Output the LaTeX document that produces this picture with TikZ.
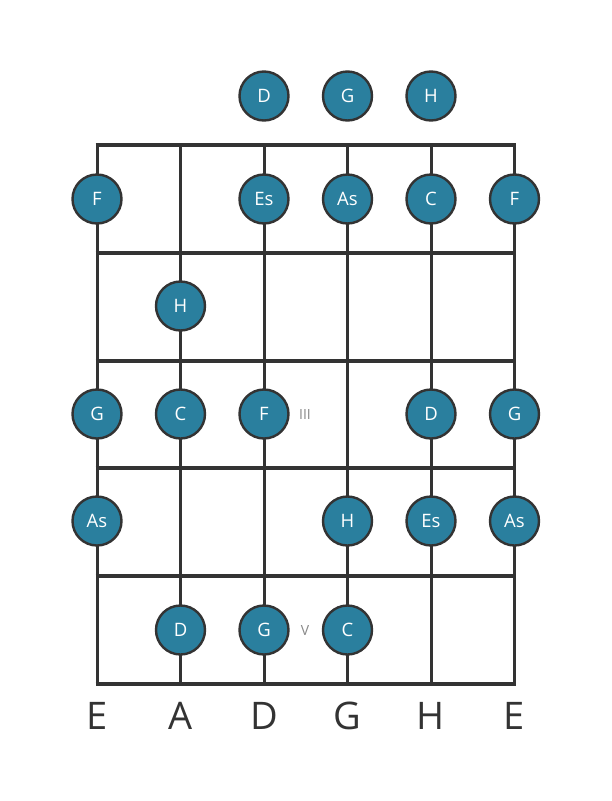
\documentclass[tikz,border=0pt]{standalone}
\usepackage{fontspec}
\setmainfont{Open Sans}
\definecolor{notefill}{HTML}{2A7F9E}
\definecolor{ink}{HTML}{333333}
\definecolor{marker}{HTML}{888888}
\begin{document}
\begin{tikzpicture}[x=1pt,y=-1pt,
  stringline/.style={draw=ink,line width=3pt},
  fretline/.style={draw=ink,line width=4.5pt},
  note/.style={circle,draw=ink,line width=2.4pt,fill=notefill,minimum size=49pt,inner sep=0pt,text=white,font=\fontsize{18.5}{20}\selectfont},
  strlabel/.style={text=ink,font=\fontsize{38}{42}\selectfont},
  fretnum/.style={text=marker,font=\fontsize{14}{16}\selectfont}]
\useasboundingbox (0,0) rectangle (611,801);
% strings
\foreach \x/\n in {97/s1,180.5/s2,264/s3,347.5/s4,431/s5,514.5/s6}{
  \coordinate (\n t) at (\x,145);
  \coordinate (\n b) at (\x,684);
  \draw[stringline] (\n t) -- (\n b);
}
% frets
\foreach \y/\n in {145/f0,253/f1,361/f2,468/f3,576/f4,684/f5}{
  \coordinate (\n l) at (95.5,\y);
  \coordinate (\n r) at (516,\y);
  \draw[fretline] (\n l) -- (\n r);
}
% open notes
\node[note] (o3) at (264,96) {D};
\node[note] (o4) at (347.5,96) {G};
\node[note] (o5) at (431,96) {H};
% fret 1
\node[note] (a1) at (97,199) {F};
\node[note] (a3) at (264,199) {Es};
\node[note] (a4) at (347.5,199) {As};
\node[note] (a5) at (431,199) {C};
\node[note] (a6) at (514.5,199) {F};
% fret 2
\node[note] (b2) at (180.5,306) {H};
% fret 3
\node[note] (c1) at (97,414) {G};
\node[note] (c2) at (180.5,414) {C};
\node[note] (c3) at (264,414) {F};
\node[note] (c5) at (431,414) {D};
\node[note] (c6) at (514.5,414) {G};
\node[fretnum] (m3) at (305,414) {III};
% fret 4
\node[note] (d1) at (97,521) {As};
\node[note] (d4) at (347.5,521) {H};
\node[note] (d5) at (431,521) {Es};
\node[note] (d6) at (514.5,521) {As};
% fret 5
\node[note] (e2) at (180.5,630) {D};
\node[note] (e3) at (264,630) {G};
\node[note] (e4) at (347.5,630) {C};
\node[fretnum] (m5) at (305,630) {V};
% string names
\foreach \x/\t/\n in {97/E/l1,180.5/A/l2,264/D/l3,347.5/G/l4,431/H/l5,514.5/E/l6}{
  \node[strlabel] (\n) at (\x,716) {\t};
}
\end{tikzpicture}
\end{document}
